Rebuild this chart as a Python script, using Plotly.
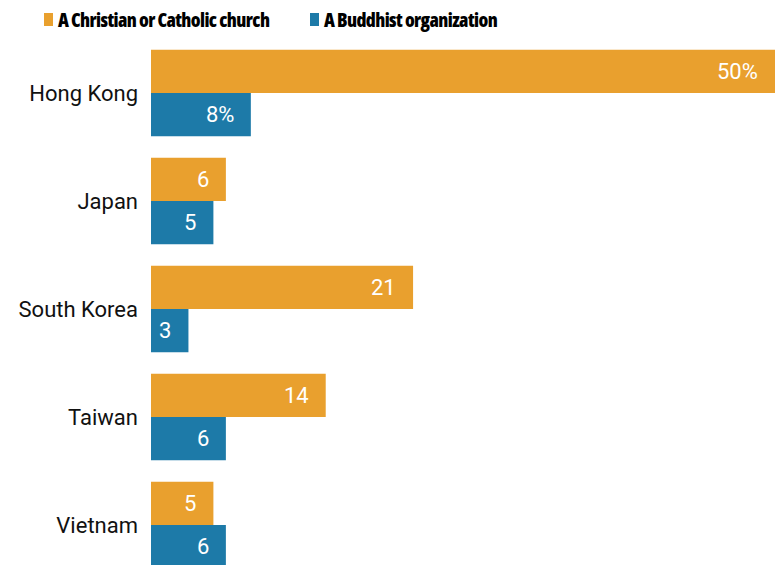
import plotly.graph_objects as go

countries = ["Hong Kong", "Japan", "South Korea", "Taiwan", "Vietnam"]
christian = [50, 6, 21, 14, 5]
buddhist = [8, 5, 3, 6, 6]
christian_labels = ["50%", "6", "21", "14", "5"]
buddhist_labels = ["8%", "5", "3", "6", "6"]
series_names = ["A Christian or Catholic church", "A Buddhist organization"]

ORANGE = "#E9A02E"
BLUE = "#1D7AA8"
W, H = 775, 565
ML, MT = 151, 39
PW, PH = W - ML, H - MT

fig = go.Figure()
fig.add_trace(go.Bar(y=countries, x=christian, orientation="h", name=series_names[0],
                     marker=dict(color=ORANGE, line=dict(width=0)), hoverinfo="skip"))
fig.add_trace(go.Bar(y=countries, x=buddhist, orientation="h", name=series_names[1],
                     marker=dict(color=BLUE, line=dict(width=0)), hoverinfo="skip"))

annotations = []
# value labels, right-aligned inside each bar
for vals, labs, shift in ((christian, christian_labels, 21.5), (buddhist, buddhist_labels, -21.5)):
    for c, v, t in zip(countries, vals, labs):
        annotations.append(dict(x=v, y=c, xref="x", yref="y", text=t, showarrow=False,
                                xanchor="right", yanchor="middle", xshift=-15, yshift=shift,
                                font=dict(family="Roboto", size=22, color="white")))

# legend drawn as swatch + bold condensed label
def px_x(p):
    return (p - ML) / PW

def px_y(p):
    return (H - p) / PH

shapes = []
legend_items = [(44, 56, ORANGE, series_names[0]), (310, 322, BLUE, series_names[1])]
for sx, tx, col, name in legend_items:
    shapes.append(dict(type="rect", xref="paper", yref="paper",
                       x0=px_x(sx), x1=px_x(sx + 9), y0=px_y(26), y1=px_y(13),
                       fillcolor=col, line=dict(width=0)))
    annotations.append(dict(x=px_x(tx), y=px_y(19.5), xref="paper", yref="paper",
                            text="<span style='font-stretch:75%;letter-spacing:-0.6px'>" + name + "</span>",
                            showarrow=False, xanchor="left", yanchor="middle",
                            font=dict(family="Open Sans", size=19, weight=800, color="black")))

fig.update_layout(
    width=W, height=H,
    margin=dict(l=ML, r=0, t=MT, b=0),
    barmode="group", bargap=0.2, bargroupgap=0,
    plot_bgcolor="white", paper_bgcolor="white",
    showlegend=False,
    xaxis=dict(range=[0, 50], visible=False, fixedrange=True),
    yaxis=dict(categoryorder="array", categoryarray=countries, range=[4.37, -0.5],
               showgrid=False, zeroline=False, showline=False, ticks="",
               ticklabelstandoff=12,
               tickfont=dict(family="Roboto", size=22, color="#111111")),
    shapes=shapes,
    annotations=annotations,
)

fig.write_html("out.html")
